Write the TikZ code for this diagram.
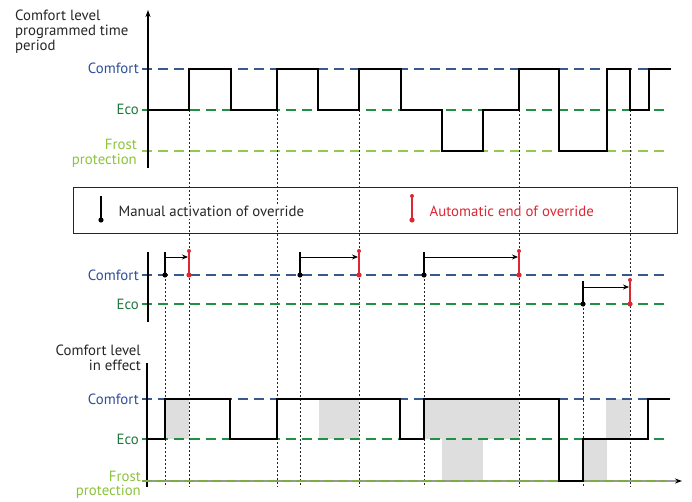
\documentclass[tikz,border=0pt]{standalone}
\usepackage{fontspec}
\setmainfont{PT Sans}
\usetikzlibrary{arrows.meta}
\definecolor{cbluet}{RGB}{47,79,150}
\definecolor{cbluel}{RGB}{55,88,140}
\definecolor{ecot}{RGB}{30,120,60}
\definecolor{ecol}{RGB}{30,145,70}
\definecolor{frostt}{RGB}{140,195,60}
\definecolor{frostl}{RGB}{150,200,80}
\definecolor{ovred}{RGB}{220,40,50}
\begin{document}
\begin{tikzpicture}[x=1pt,y=-1pt,
  sig/.style={line width=2.2pt,black,line join=miter},
  lvl/.style={line width=1.4pt,dash pattern=on 10pt off 6pt},
  vdot/.style={line width=0.8pt,black!85,dash pattern=on 2pt off 2pt},
  ax/.style={line width=1.2pt,black},
  lab/.style={font=\fontsize{14.8}{15}\selectfont,inner sep=0pt},
  shadebox/.style={fill=black!13,draw=none},
  mline/.style={line width=1.8pt,black},
  rline/.style={line width=1.8pt,ovred},
  parr/.style={line width=0.8pt,black,-{Stealth[length=6pt,width=5pt]}},
]
\useasboundingbox (0,0) rectangle (692,502);

% ---------- top panel ----------
\node[lab,anchor=north west,align=left,text=black!85] (ttl1) at (15,10) {Comfort level\\programmed time\\period};
\node[lab,anchor=east,text=cbluet] (c1) at (139,68) {Comfort};
\node[lab,anchor=east,text=ecot] (e1) at (139,109) {Eco};
\node[lab,anchor=north east,align=right,text=frostt] (f1) at (137,139) {Frost\\protection};

\draw[lvl,cbluel] (142,69) -- (665,69);
\draw[lvl,ecol] (142,110) -- (665,110);
\draw[lvl,frostl] (142,151) -- (665,151);

\coordinate (a1b) at (148,168);
\coordinate (a1t) at (148,10);
\draw[ax,-{Stealth[length=7pt,width=5pt]}] (a1b) -- (a1t);

% ---------- vertical dotted guides ----------
\foreach \x in {189,277,359,519,630} \draw[vdot] (\x,110) -- (\x,487);
\foreach \x in {165,300,424} \draw[vdot] (\x,275) -- (\x,487);
\draw[vdot] (583,304) -- (583,487);

\draw[sig] (148,110) -- (189,110) -- (189,69) -- (231,69) -- (231,110) -- (277,110) -- (277,69) -- (318,69) -- (318,110) -- (359,110) -- (359,69) -- (401,69) -- (401,110) -- (442,110) -- (442,151) -- (483,151) -- (483,110) -- (519,110) -- (519,69) -- (559,69) -- (559,151) -- (607,151) -- (607,69) -- (630,69) -- (630,110) -- (649,110) -- (649,69) -- (671,69);

% ---------- legend ----------
\node[draw=black!85,line width=1pt,minimum width=604pt,minimum height=46pt,anchor=north west,inner sep=0pt] (leg) at (73,187) {};
\draw[mline] (101,196) -- (101,220);
\fill[black] (101,220) circle (2.6pt);
\node[lab,anchor=base west,fill=white,inner sep=1.5pt,text=black!85] (lgm) at (117,217) {Manual activation of override};
\draw[rline] (412,196) -- (412,220);
\fill[ovred] (412,196) circle (2pt);
\fill[ovred] (412,220) circle (2.6pt);
\node[lab,anchor=base west,fill=white,inner sep=1.5pt,text=ovred] (lgr) at (428,217) {Automatic end of override};

% ---------- middle panel ----------
\node[lab,anchor=east,text=cbluet] (c2) at (139,275) {Comfort};
\node[lab,anchor=east,text=ecot] (e2) at (139,304) {Eco};
\draw[lvl,cbluel] (142,275) -- (666,275);
\draw[lvl,ecol] (142,304) -- (666,304);
\draw[ax] (148,252) -- (148,322);

\foreach \m/\r/\ly/\ty/\ay in {165/189/275/252/257, 300/359/275/252/257, 424/519/275/252/257, 583/630/304/281/287}{
  \draw[mline] (\m,\ty) -- (\m,\ly);
  \fill[black] (\m,\ly) circle (2.6pt);
  \draw[parr] (\m,\ay) -- (\r-1,\ay);
  \draw[rline] (\r,\ty-1) -- (\r,\ly);
  \fill[ovred] (\r,\ty-1) circle (2pt);
  \fill[ovred] (\r,\ly) circle (2.6pt);
}

% ---------- bottom panel ----------
\node[lab,anchor=north east,align=right,text=black!85] (ttl2) at (141,345) {Comfort level\\in effect};
\node[lab,anchor=east,text=cbluet] (c3) at (139,399) {Comfort};
\node[lab,anchor=east,text=ecot] (e3) at (139,439) {Eco};
\node[lab,anchor=north east,align=right,text=frostt,font=\fontsize{14.8}{14}\selectfont] (f3) at (141,471) {Frost\\protection};

\fill[shadebox] (165,399) rectangle (189,439);
\fill[shadebox] (319,399) rectangle (359,439);
\fill[shadebox] (424,399) rectangle (519,439);
\fill[shadebox] (442,439) rectangle (483,481);
\fill[shadebox] (583,439) rectangle (607,481);
\fill[shadebox] (606,399) rectangle (630,439);

\draw[lvl,cbluel] (142,399) -- (665,399);
\draw[lvl,ecol] (142,439) -- (665,439);
\draw[ax] (147,363) -- (147,487);
\coordinate (hx0) at (147,481);
\coordinate (hx1) at (682,481);
\draw[line width=1.4pt,black!40,-{Stealth[length=7pt,width=5pt,black]}] (hx0) -- (hx1);
\draw[line width=1.4pt,frostl!85!black,dash pattern=on 10pt off 4pt] (142,481) -- (665,481);

\draw[sig] (147,439) -- (165,439) -- (165,399) -- (230,399) -- (230,439) -- (277,439) -- (277,399) -- (400,399) -- (400,439) -- (424,439) -- (424,399) -- (559,399) -- (559,481) -- (583,481) -- (583,439) -- (648,439) -- (648,399) -- (670,399);
\end{tikzpicture}
\end{document}
